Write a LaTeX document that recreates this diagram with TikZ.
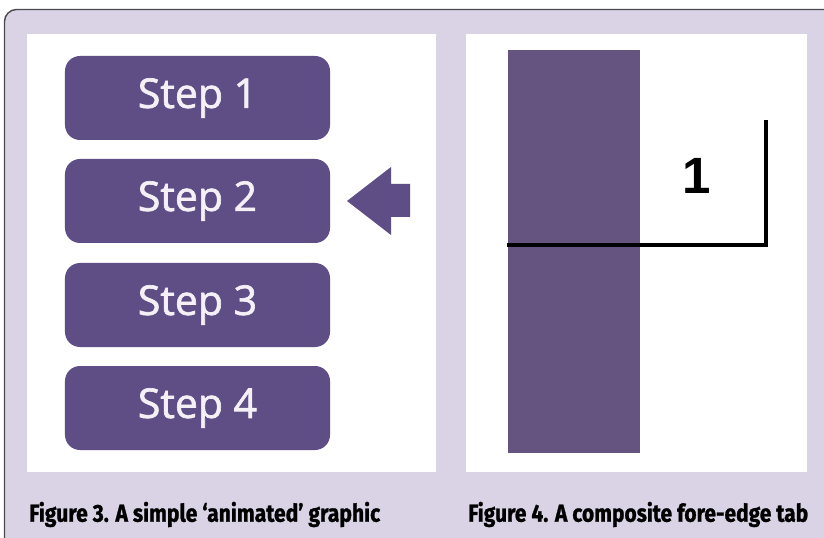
\documentclass[tikz,border=0pt]{standalone}
\usepackage{fontspec}
\setmainfont{Open Sans}
\newfontfamily\stepfont[FakeBold=1.6]{Open Sans}
\newfontfamily\capfont[FakeBold=1.2]{Fira Sans Bold}
\newfontfamily\numfont{Liberation Sans}
\definecolor{lav}{HTML}{D9D3E5}
\definecolor{framec}{HTML}{4A4A4E}
\definecolor{purp}{HTML}{5F4E86}
\definecolor{barc}{HTML}{64547F}
\definecolor{stepfg}{HTML}{F4F0F6}
\tikzset{
  stepbox/.style={rectangle, rounded corners=15bp, minimum width=265bp, minimum height=84bp,
    inner sep=0pt, fill=purp, text=stepfg, font=\stepfont\fontsize{41bp}{44bp}\selectfont},
  captext/.style={anchor=base west, inner sep=0pt, font=\capfont\fontsize{24.5bp}{28bp}\selectfont},
}
\begin{document}
\begin{tikzpicture}[x=1bp,y=-1bp]
\useasboundingbox (0,0) rectangle (824,538);
\begin{scope}
  \clip (0,0) rectangle (824,538);
  \draw[fill=lav, draw=framec, line width=1.4bp, rounded corners=12bp] (4.5,9.5) rectangle (850,565);
\end{scope}
% panels
\fill[white] (27,34) rectangle (436,472);
\fill[white] (466,34) rectangle (807,472);
% Figure 3
\node[stepbox] (s1) at (197.5,98) {Step 1};
\node[stepbox] (s2) at (197.5,201) {Step 2};
\node[stepbox] (s3) at (197.5,305) {Step 3};
\node[stepbox] (s4) at (197.5,408) {Step 4};
\fill[purp] (347,201) -- (391,167) -- (391,184) -- (410,184) -- (410,217) -- (391,217) -- (391,235) -- cycle;
% Figure 4
\fill[barc] (508,50) rectangle (640,453);
\draw[line width=3.5bp, miter limit=10] (507,245) -- (766,245) -- (766,120);
\node[inner sep=0pt, font=\numfont\bfseries\fontsize{51bp}{53bp}\selectfont] (one) at (697,176) {1};
% captions
\node[captext] (c3) at (29,521.7) {\resizebox{351bp}{\height}{Figure 3. A simple ‘animated’ graphic}};
\node[captext] (c4) at (468,521.7) {\resizebox{340bp}{\height}{Figure 4. A composite fore-edge tab}};
\end{tikzpicture}
\end{document}
